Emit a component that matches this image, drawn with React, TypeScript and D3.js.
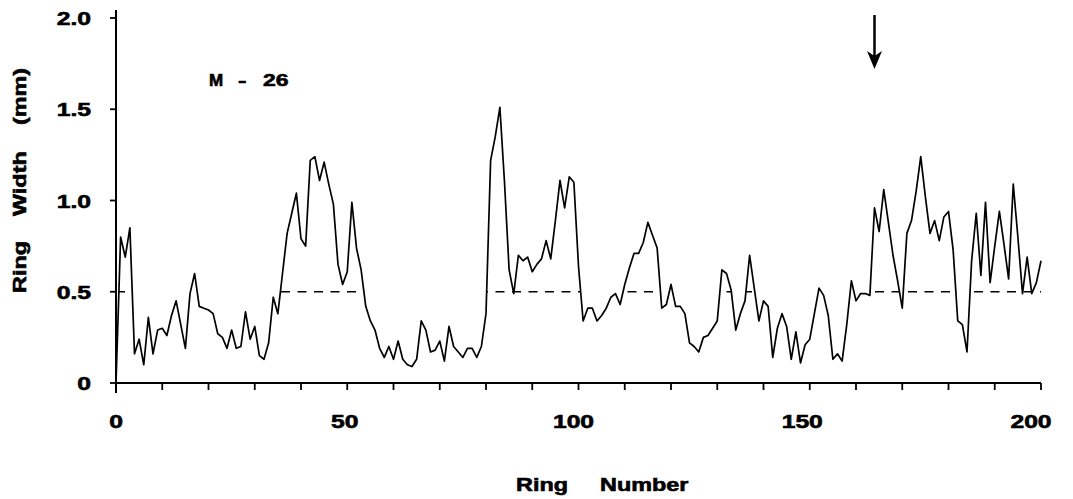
import React from "react";
import * as d3 from "d3";

// ring widths (mm), ring 0..200
const widths = [
  0.0, 0.8, 0.69, 0.85, 0.16, 0.24, 0.1, 0.36, 0.16, 0.29,
  0.3, 0.26, 0.37, 0.45, 0.32, 0.19, 0.49, 0.6, 0.42, 0.41,
  0.4, 0.38, 0.27, 0.25, 0.19, 0.29, 0.19, 0.2, 0.39, 0.24,
  0.31, 0.15, 0.13, 0.22, 0.47, 0.38, 0.6, 0.82, 0.93, 1.04,
  0.79, 0.75, 1.22, 1.24, 1.11, 1.21, 1.09, 0.98, 0.65, 0.54,
  0.61, 0.99, 0.74, 0.62, 0.42, 0.34, 0.29, 0.19, 0.14, 0.2,
  0.13, 0.23, 0.13, 0.1, 0.09, 0.13, 0.34, 0.29, 0.17, 0.18,
  0.23, 0.12, 0.31, 0.2, 0.17, 0.14, 0.19, 0.19, 0.14, 0.2,
  0.38, 1.22, 1.35, 1.51, 1.1, 0.62, 0.49, 0.7, 0.67, 0.69,
  0.61, 0.65, 0.68, 0.78, 0.68, 0.89, 1.11, 0.96, 1.13, 1.1,
  0.64, 0.34, 0.41, 0.41, 0.34, 0.37, 0.41, 0.47, 0.49, 0.43,
  0.54, 0.63, 0.71, 0.71, 0.77, 0.88, 0.81, 0.74, 0.41, 0.43,
  0.54, 0.42, 0.42, 0.38, 0.22, 0.2, 0.17, 0.25, 0.26, 0.3,
  0.34, 0.62, 0.6, 0.51, 0.29, 0.38, 0.45, 0.7, 0.52, 0.34,
  0.45, 0.42, 0.14, 0.3, 0.38, 0.31, 0.13, 0.28, 0.11, 0.21,
  0.24, 0.38, 0.52, 0.48, 0.37, 0.13, 0.16, 0.12, 0.32, 0.56,
  0.45, 0.49, 0.49, 0.48, 0.96, 0.83, 1.06, 0.88, 0.7, 0.56,
  0.41, 0.82, 0.89, 1.05, 1.24, 1.02, 0.82, 0.89, 0.78, 0.91,
  0.94, 0.73, 0.34, 0.32, 0.17, 0.67, 0.93, 0.59, 0.99, 0.55,
  0.75, 0.94, 0.76, 0.57, 1.09, 0.8, 0.49, 0.69, 0.49, 0.55,
  0.67,
];

const meanWidth = 0.5;
const markedRing = 164;

const xTicks = d3.range(0, 201, 10);
const xLabels = [0, 50, 100, 150, 200];
const yTicks = [0, 0.5, 1.0, 1.5, 2.0];
const yLabels = ["0", "0.5", "1.0", "1.5", "2.0"];

const W = 1073;
const H = 499;
const font = "'Liberation Sans', Arial, sans-serif";

// Arial bold advance widths (em) for the few glyphs we need
const adv = (s: string) =>
  s.split("").reduce((a, c) => a + (c === "." ? 0.278 : 0.556), 0);

function Label({ x, y, text, size = 19, sx = 1.3, rotate = 0 }) {
  return (
    <g transform={`translate(${x},${y}) rotate(${rotate}) scale(${sx},1)`}>
      <text
        x={0}
        y={0}
        fontFamily={font}
        fontWeight="bold"
        fontSize={size}
        fill="#000"
        stroke="#000"
        strokeWidth={0.6}
      >
        {text}
      </text>
    </g>
  );
}

export default function App() {
  const x = d3.scaleLinear().domain([0, 200]).range([116, 1041]);
  const y = d3.scaleLinear().domain([0, 2]).range([383, 18]);

  const line = d3
    .line<number>()
    .x((d, i) => x(i))
    .y((d) => y(d));

  // white cover above the curve, so the mean line only shows where the curve is over it
  const cover = d3
    .area<number>()
    .x((d, i) => x(i))
    .y0(y(2))
    .y1((d) => y(d));

  const ax = x(markedRing);
  const tickSize = 19;
  const tickSx = 1.3;

  return (
    <svg
      width={W}
      height={H}
      style={{ position: "absolute", left: 0, top: 0, background: "#fff" }}
    >
      <rect width={W} height={H} fill="#fff" />

      <line
        x1={x(0)}
        x2={x(200)}
        y1={y(meanWidth)}
        y2={y(meanWidth)}
        stroke="#000"
        strokeWidth={1.3}
        strokeDasharray="9 7.5"
      />
      <path d={cover(widths) || ""} fill="#fff" />
      <path d={line(widths) || ""} fill="none" stroke="#000" strokeWidth={1.7} strokeLinejoin="round" />

      {/* axes */}
      <line x1={x(0)} x2={x(0)} y1={y(0) + 10} y2={10} stroke="#000" strokeWidth={2} />
      <line x1={x(0)} x2={x(200)} y1={y(0)} y2={y(0)} stroke="#000" strokeWidth={2} />
      {xTicks.map((t) => (
        <line key={t} x1={x(t)} x2={x(t)} y1={y(0)} y2={y(0) + 7} stroke="#000" strokeWidth={1.8} />
      ))}
      {yTicks.map((t) => (
        <line key={t} x1={x(0) - 6} x2={x(0)} y1={y(t)} y2={y(t)} stroke="#000" strokeWidth={1.8} />
      ))}

      {xLabels.map((t) => {
        const w = adv(String(t)) * tickSize * tickSx;
        return <Label key={t} x={x(t) - t * 0.05 - w / 2} y={428} text={String(t)} size={tickSize} sx={tickSx} />;
      })}
      {yTicks.map((t, i) => {
        const w = adv(yLabels[i]) * tickSize * tickSx;
        return <Label key={t} x={91 - w} y={y(t) + 7} text={yLabels[i]} size={tickSize} sx={tickSx} />;
      })}

      <Label x={516} y={491} text="Ring" size={18} />
      <Label x={600} y={491} text="Number" size={18} />

      <Label x={26} y={293} text="Ring" size={18} rotate={-90} />
      <Label x={26} y={216} text="Width" size={18} rotate={-90} />
      <Label x={26} y={125} text="(mm)" size={18} rotate={-90} />

      <Label x={209} y={86} text="M" size={17} sx={1.0} />
      <Label x={238} y={86} text="-" size={17} sx={1.5} />
      <Label x={263} y={86} text="26" size={17} sx={1.35} />

      {/* arrow */}
      <line x1={ax} x2={ax} y1={15} y2={58} stroke="#000" strokeWidth={2.5} />
      <polygon points={`${ax - 7.5},51 ${ax},56 ${ax + 7.5},51 ${ax},69`} fill="#000" />
    </svg>
  );
}
